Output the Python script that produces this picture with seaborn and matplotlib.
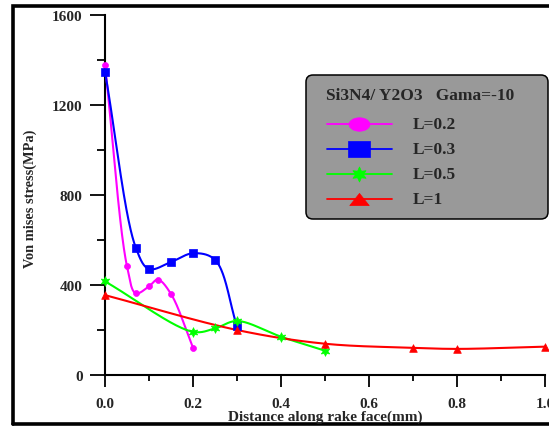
import numpy as np
import pandas as pd
import matplotlib
matplotlib.use("Agg")
import matplotlib.pyplot as plt
import seaborn as sns
from matplotlib.path import Path
from matplotlib.patches import FancyBboxPatch
from matplotlib.ticker import MultipleLocator, FixedLocator, FixedFormatter

# ---------------- data ----------------
x_L02 = [0.00, 0.05, 0.07, 0.10, 0.12, 0.15, 0.20]
y_L02 = [1380, 483, 363, 394, 424, 360, 121]
x_L03 = [0.00, 0.07, 0.10, 0.15, 0.20, 0.25, 0.30]
y_L03 = [1348, 566, 471, 502, 541, 512, 216]
x_L05 = [0.00, 0.20, 0.25, 0.30, 0.40, 0.50]
y_L05 = [416, 192, 207, 240, 170, 108]
x_L1 = [0.00, 0.30, 0.50, 0.70, 0.80, 1.00]
y_L1 = [355, 200, 139, 121, 116, 126]
series_labels = ["L=0.2", "L=0.3", "L=0.5", "L=1"]
legend_title = "Si3N4/ Y2O3   Gama=-10"
x_ticks = [0.0, 0.2, 0.4, 0.6, 0.8, 1.0]
x_tick_labels = ["0.0", "0.2", "0.4", "0.6", "0.8", "1.0"]
y_ticks = [0, 400, 800, 1200, 1600]
y_tick_labels = ["0", "400", "800", "1200", "1600"]
x_label = "Distance along rake face(mm)"
y_label = "Von mises stress(MPa)"

# ---------------- style ----------------
sns.set_style("ticks")
plt.rcParams["font.family"] = ["Liberation Serif", "DejaVu Serif"]
plt.rcParams["font.weight"] = "bold"

W, H = 549, 427
fig = plt.figure(figsize=(W / 100, H / 100), dpi=100)
fig.patch.set_facecolor("white")

# axes placement in pixels: x 105..545, y 16..376
L, R, T, B = 105, 545, 16, 376
ax = fig.add_axes([L / W, 1 - B / H, (R - L) / W, (B - T) / H])
ax.set_facecolor("white")

colors = ["#FF00FF", "#0000FF", "#00FF00", "#FF0000"]
xs_all = [x_L02, x_L03, x_L05, x_L1]
ys_all = [y_L02, y_L03, y_L05, y_L1]

# scaling to make the smoothing isotropic in screen space
SX = (R - L) / 1.0
SY = (B - T) / 1600.0


def smooth(xs, ys, n=60):
    """Centripetal Catmull-Rom curve through the given points (display-scaled)."""
    P = np.column_stack([np.asarray(xs, float) * SX, np.asarray(ys, float) * SY])
    P = np.vstack([2 * P[0] - P[1], P, 2 * P[-1] - P[-2]])
    out = []
    for i in range(1, len(P) - 2):
        p0, p1, p2, p3 = P[i - 1], P[i], P[i + 1], P[i + 2]
        t0 = 0.0
        t1 = t0 + np.linalg.norm(p1 - p0) ** 0.5
        t2 = t1 + np.linalg.norm(p2 - p1) ** 0.5
        t3 = t2 + np.linalg.norm(p3 - p2) ** 0.5
        t = np.linspace(t1, t2, n)[:, None]
        A1 = (t1 - t) / (t1 - t0) * p0 + (t - t0) / (t1 - t0) * p1
        A2 = (t2 - t) / (t2 - t1) * p1 + (t - t1) / (t2 - t1) * p2
        A3 = (t3 - t) / (t3 - t2) * p2 + (t - t2) / (t3 - t2) * p3
        B1 = (t2 - t) / (t2 - t0) * A1 + (t - t0) / (t2 - t0) * A2
        B2 = (t3 - t) / (t3 - t1) * A2 + (t - t1) / (t3 - t1) * A3
        C = (t2 - t) / (t2 - t1) * B1 + (t - t1) / (t2 - t1) * B2
        out.append(C if i == 1 else C[1:])
    C = np.vstack(out)
    return C[:, 0] / SX, C[:, 1] / SY


markers = ["o", "s", (6, 1, 0), "^"]
msizes = [4.3, 5.3, 7.0, 5.5]

for xs, ys, c, m, ms in zip(xs_all, ys_all, colors, markers, msizes):
    sx, sy = smooth(xs, ys)
    sns.lineplot(x=sx, y=sy, sort=False, estimator=None, color=c, lw=1.5, ax=ax, zorder=3)
    sns.scatterplot(x=xs, y=ys, marker=m, s=ms ** 2, color=c, edgecolor=c, linewidth=0.5,
                    ax=ax, zorder=4, clip_on=False)

ax.set_xlim(0, 1.0)
ax.set_ylim(0, 1600)
for s in ["top", "right"]:
    ax.spines[s].set_visible(False)
for s in ["left", "bottom"]:
    ax.spines[s].set_linewidth(1.5)
    ax.spines[s].set_color("black")

ax.xaxis.set_major_locator(FixedLocator(x_ticks))
ax.xaxis.set_major_formatter(FixedFormatter(x_tick_labels))
ax.xaxis.set_minor_locator(MultipleLocator(0.1))
ax.yaxis.set_major_locator(FixedLocator(y_ticks))
ax.yaxis.set_major_formatter(FixedFormatter(y_tick_labels))
ax.yaxis.set_minor_locator(MultipleLocator(200))

ax.tick_params(axis="x", which="major", length=8.6, width=1.3, direction="out", pad=7,
               labelsize=11, color="black")
ax.tick_params(axis="x", which="minor", length=4.3, width=1.3, direction="out", color="black")
ax.tick_params(axis="y", which="major", length=11, width=1.3, direction="out", pad=5,
               labelsize=11, color="black")
ax.tick_params(axis="y", which="minor", length=6, width=1.3, direction="out", color="black")
for lab in ax.get_xticklabels() + ax.get_yticklabels():
    lab.set_fontweight("bold")

ax.set_xlabel("")
ax.set_ylabel("")

# ---------------- overlay in pixel coordinates ----------------
ov = fig.add_axes([0, 0, 1, 1], zorder=10)
ov.set_xlim(0, W)
ov.set_ylim(H, 0)
ov.axis("off")
ov.patch.set_alpha(0)

# figure frame (right side cut off)
ov.plot([13, 13, W + 10], [424.5, 7, 7], color="black", lw=2.6, solid_joinstyle="miter",
        clip_on=False)
ov.plot([13, W + 10], [424.5, 424.5], color="black", lw=2.6, clip_on=False)

# axis labels
ov.text((L + R) / 2, 417.5, x_label, ha="center", va="center", fontsize=11, fontweight="bold")
ov.text(30, 199, y_label, ha="center", va="center", rotation=90, fontsize=10.4,
        fontweight="bold")

# legend box
box = FancyBboxPatch((306, 76), 242, 144, boxstyle="round,pad=0,rounding_size=7",
                     facecolor="#999999", edgecolor="black", lw=1.1)
ov.add_patch(box)
ov.text(326.5, 96, legend_title, ha="left", va="center", fontsize=12.5, fontweight="bold")

th = np.linspace(0, 2 * np.pi, 60)
ellipse = Path(np.column_stack([1.55 * np.cos(th), np.sin(th)]))
rect = Path([(-1.47, -1), (1.47, -1), (1.47, 1), (-1.47, 1), (-1.47, -1)],
            [Path.MOVETO, Path.LINETO, Path.LINETO, Path.LINETO, Path.CLOSEPOLY])
tri = Path([(-1.6, -1), (1.6, -1), (0, 1), (-1.6, -1)],
           [Path.MOVETO, Path.LINETO, Path.LINETO, Path.CLOSEPOLY])
leg_markers = [ellipse, rect, (6, 1, 0), tri]
leg_ms = [15.0, 16.0, 11.0, 14.0]
row_y = [125, 150, 175, 200]
for lab, c, m, ms, yy in zip(series_labels, colors, leg_markers, leg_ms, row_y):
    ov.plot([326.5, 392], [yy, yy], color=c, lw=1.3)
    ov.plot([359], [yy], marker=m, ms=ms, color=c, mec=c, mew=0.5, ls="none")
    ov.text(413, yy, lab, ha="left", va="center", fontsize=12.5, fontweight="bold")

fig.savefig("out.png", dpi=100)
